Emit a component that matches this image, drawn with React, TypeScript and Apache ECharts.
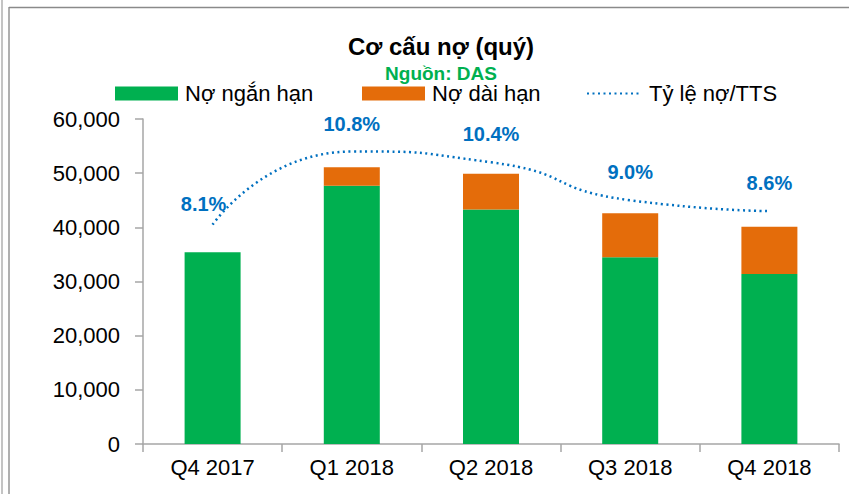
import React, { useEffect, useRef } from "react";
import * as echarts from "echarts";

const categories = ["Q4 2017", "Q1 2018", "Q2 2018", "Q3 2018", "Q4 2018"];
const shortTermDebt = [35400, 47700, 43300, 34500, 31400];
const longTermDebt = [0, 3400, 6600, 8100, 8700];
const debtRatio = [8.1, 10.8, 10.4, 9.0, 8.6];
const yTicks = [0, 10000, 20000, 30000, 40000, 50000, 60000];

const FONT = "Liberation Sans";
const GREEN = "#00B050";
const ORANGE = "#E46C0A";
const BLUE = "#0070C0";
const AXIS = "#A6A6A6";

export default function App() {
  const ref = useRef<HTMLDivElement>(null);
  useEffect(() => {
    if (!ref.current) return;
    const chart = echarts.init(ref.current, null, { renderer: "svg" });
    const option: any = {
      animation: false,
      backgroundColor: "#ffffff",
      textStyle: { fontFamily: FONT },
      graphic: [
        { type: "line", shape: { x1: 2, y1: 0, x2: 2, y2: 494 }, style: { stroke: "#c4c4c4", lineWidth: 2 } },
        { type: "line", shape: { x1: 9, y1: 7, x2: 9, y2: 494 }, style: { stroke: "#b0b0b0", lineWidth: 2 } },
        { type: "line", shape: { x1: 9, y1: 7.5, x2: 849, y2: 7.5 }, style: { stroke: "#8a8a8a", lineWidth: 1.5 } },
        {
          type: "text",
          x: 441,
          y: 46,
          style: {
            text: "Cơ cấu nợ (quý)",
            fontFamily: FONT,
            fontSize: 24,
            fontWeight: "bold",
            fill: "#000000",
            align: "center",
            verticalAlign: "middle",
          },
        },
        {
          type: "text",
          x: 441,
          y: 73,
          style: {
            text: "Nguồn: DAS",
            fontFamily: FONT,
            fontSize: 19,
            fontWeight: "bold",
            fill: GREEN,
            align: "center",
            verticalAlign: "middle",
          },
        },
      ],
      legend: [
        {
          left: 115,
          top: 82.5,
          padding: 0,
          itemWidth: 63,
          itemHeight: 14,
          icon: "rect",
          data: ["Nợ ngắn hạn"],
          textStyle: { fontFamily: FONT, fontSize: 22, color: "#000", lineHeight: 22, padding: [0, 0, 0, 2] },
        },
        {
          left: 362,
          top: 82.5,
          padding: 0,
          itemWidth: 63,
          itemHeight: 14,
          icon: "rect",
          data: ["Nợ dài hạn"],
          textStyle: { fontFamily: FONT, fontSize: 22, color: "#000", lineHeight: 22, padding: [0, 0, 0, 2] },
        },
        {
          left: 586,
          top: 82.5,
          padding: 0,
          itemWidth: 55,
          itemHeight: 14,
          itemStyle: { opacity: 0 },
          data: ["Tỷ lệ nợ/TTS"],
          textStyle: { fontFamily: FONT, fontSize: 22, color: "#000", lineHeight: 22, padding: [0, 0, 0, 2] },
        },
      ],
      grid: { left: 143, right: 10, top: 119, bottom: 50, containLabel: false },
      xAxis: {
        type: "category",
        data: categories,
        axisLine: { show: true, lineStyle: { color: AXIS, width: 1.5 } },
        axisTick: { show: true, length: 8, alignWithLabel: false, lineStyle: { color: AXIS, width: 1.5 } },
        axisLabel: { fontFamily: FONT, fontSize: 22, color: "#000", margin: 12 },
      },
      yAxis: [
        {
          type: "value",
          min: yTicks[0],
          max: yTicks[yTicks.length - 1],
          interval: yTicks[1] - yTicks[0],
          splitLine: { show: false },
          axisLine: { show: true, lineStyle: { color: AXIS, width: 1.5 } },
          axisTick: { show: true, length: 8, inside: false, lineStyle: { color: AXIS, width: 1.5 } },
          axisLabel: {
            fontFamily: FONT,
            fontSize: 22,
            color: "#000",
            margin: 23,
            formatter: (v: number) => v.toLocaleString("en-US"),
          },
        },
        { type: "value", min: 0, max: 12, show: false, splitLine: { show: false } },
      ],
      series: [
        {
          name: "Nợ ngắn hạn",
          type: "bar",
          stack: "debt",
          barWidth: 56,
          data: shortTermDebt,
          itemStyle: { color: GREEN },
        },
        {
          name: "Nợ dài hạn",
          type: "bar",
          stack: "debt",
          barWidth: 56,
          data: longTermDebt,
          itemStyle: { color: ORANGE },
        },
        {
          name: "Tỷ lệ nợ/TTS",
          type: "line",
          yAxisIndex: 1,
          smooth: 0.6,
          symbol: "circle",
          symbolSize: 0,
          showSymbol: true,
          showAllSymbol: true,
          data: debtRatio.map((v, i) =>
            i === 0 ? { value: v, label: { distance: 11, offset: [-9, 0] } } : v
          ),
          lineStyle: { color: BLUE, width: 2.5, type: [2, 3.5] },
          itemStyle: { color: BLUE },
          label: {
            show: true,
            position: "top",
            distance: 18,
            fontFamily: FONT,
            fontSize: 20,
            fontWeight: "bold",
            color: BLUE,
            formatter: (p: any) => Number(p.value).toFixed(1) + "%",
          },
        },
      ],
    };
    chart.setOption(option);
    return () => chart.dispose();
  }, []);
  return (
    <div
      ref={ref}
      style={{ position: "absolute", left: 0, top: 0, width: 849, height: 494 }}
    />
  );
}
